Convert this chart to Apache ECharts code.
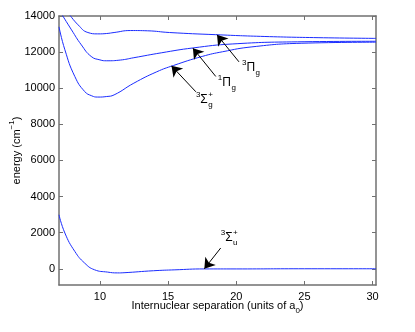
<!DOCTYPE html>
<html>
<head>
<meta charset="utf-8">
<script src="https://cdn.jsdelivr.net/npm/echarts@6/dist/echarts.min.js"></script>
<style>
html, body { margin: 0; padding: 0; background: #fff; }
#chart { width: 415px; height: 332px; }
</style>
</head>
<body>
<div id="chart"></div>
<script>
// potential curves (x in a0, energy in cm^-1)
const sigmaGX = [7.0, 7.43, 8.16, 8.88, 9.4, 9.84, 10.5, 11.04, 12.49, 14.17, 15.4, 17.5, 19.0, 21.15, 24.76, 30.25];
const sigmaGE = [13400, 12130, 10650, 9820, 9580, 9510, 9540, 9630, 10280, 10910, 11260, 11760, 12020, 12290, 12490, 12550];

const piG1X = [7.2, 7.92, 8.64, 9.36, 10.0, 10.5, 11.5, 12.49, 14.5, 16.82, 19.7, 24.5, 30.25];
const piG1E = [14100, 13230, 12400, 11760, 11570, 11520, 11560, 11690, 11960, 12230, 12450, 12570, 12600];

const piG3X = [7.75, 8.4, 9.12, 9.84, 10.5, 11.04, 12.25, 13.5, 15.1, 18.5, 22.1, 26.0, 30.25];
const piG3E = [14100, 13510, 13085, 13010, 13030, 13085, 13195, 13180, 13085, 12965, 12865, 12800, 12760];

const sigmaUX = [7.0, 7.43, 8.16, 8.88, 9.6, 10.56, 11.3, 11.77, 13.93, 15.5, 17.66, 20.0, 25.0, 30.25];
const sigmaUE = [2990, 1980, 960, 315, -55, -185, -230, -220, -110, -60, -10, -10, 0, 0];

const xTicks = [10, 15, 20, 25, 30];
const yTicks = [0, 2000, 4000, 6000, 8000, 10000, 12000, 14000];

// annotation labels: [left superscript, symbol, right superscript, subscript]
const annoNames = [['3', 'Π', '', 'g'], ['1', 'Π', '', 'g'], ['3', 'Σ', '+', 'g'], ['3', 'Σ', '+', 'u']];
const annoTailX = [20.2, 18.5, 17.04, 18.86];
const annoTailE = [11460, 10650, 9800, 1150];
const annoTipX = [18.59, 16.82, 15.25, 17.66];
const annoTipE = [12957, 12220, 11240, 0];

// label placement relative to the arrow tail, px
const labelShift = [[3, 6], [2, 6], [0, 7.5], [0, -10]];

const FONT = 'Liberation Sans, Arial, Helvetica, sans-serif';
const LINE_BLUE = '#1a2cff';
const AXIS_GREY = '#707070';

function zip(xs, ys) {
    return xs.map((x, i) => [x, ys[i]]);
}

const chart = echarts.init(document.getElementById('chart'));

function curve(name, xs, es) {
    return {
        name: name,
        type: 'line',
        data: zip(xs, es),
        showSymbol: false,
        smooth: 0.5,
        clip: true,
        lineStyle: { color: LINE_BLUE, width: 1 },
        silent: true
    };
}

const arrows = annoTipX.map((x, i) => [
    { coord: [annoTailX[i], annoTailE[i]] },
    { coord: [x, annoTipE[i]] }
]);

const series = [
    curve('3Sg+', sigmaGX, sigmaGE),
    curve('1Pg', piG1X, piG1E),
    curve('3Pg', piG3X, piG3E),
    curve('3Su+', sigmaUX, sigmaUE)
];
series[0].markLine = {
    silent: true,
    animation: false,
    symbol: ['none', 'arrow'],
    symbolSize: 10,
    label: { show: false },
    lineStyle: { color: '#000', width: 1, type: 'solid' },
    itemStyle: { color: '#000' },
    emphasis: { disabled: true },
    data: arrows
};

const boxAxis = {
    axisLine: { show: true, onZero: false, lineStyle: { color: AXIS_GREY, width: 1.5 } },
    splitLine: { show: false }
};

chart.setOption({
    animation: false,
    grid: { left: 54, right: 39, top: 16, bottom: 47 },
    xAxis: [
        Object.assign({
            type: 'value', min: 7, max: 30.25, position: 'bottom',
            name: '{t|Internuclear separation (units of a}{s|0}{t|)}',
            nameLocation: 'middle', nameGap: 12, nameMoveOverlap: false,
            nameTextStyle: {
                rich: {
                    t: { fontFamily: FONT, fontSize: 11, color: '#000', lineHeight: 18 },
                    s: { fontFamily: FONT, fontSize: 8, color: '#000', lineHeight: 8, verticalAlign: 'bottom' }
                }
            },
            axisTick: { inside: true, length: 4, customValues: xTicks, lineStyle: { color: AXIS_GREY } },
            axisLabel: { customValues: xTicks, margin: 6, fontFamily: FONT, fontSize: 11, color: '#000' }
        }, boxAxis),
        Object.assign({
            type: 'value', min: 7, max: 30.25, position: 'top',
            axisTick: { inside: true, length: 4, customValues: xTicks, lineStyle: { color: AXIS_GREY } },
            axisLabel: { show: false }
        }, boxAxis)
    ],
    yAxis: [
        Object.assign({
            type: 'value', min: -900, max: 14000, position: 'left',
            name: '{t|energy (cm}{s|−1}{t|)}',
            nameLocation: 'middle', nameGap: 33, nameRotate: 90, nameMoveOverlap: false,
            nameTextStyle: {
                rich: {
                    t: { fontFamily: FONT, fontSize: 11, color: '#000', lineHeight: 18 },
                    s: { fontFamily: FONT, fontSize: 8, color: '#000', lineHeight: 8, verticalAlign: 'top' }
                }
            },
            axisTick: { inside: true, length: 4, customValues: yTicks, lineStyle: { color: AXIS_GREY } },
            axisLabel: {
                customValues: yTicks, margin: 4, fontFamily: FONT, fontSize: 11, color: '#000',
                formatter: (v) => String(v)
            }
        }, boxAxis),
        Object.assign({
            type: 'value', min: -900, max: 14000, position: 'right',
            axisTick: { inside: true, length: 4, customValues: yTicks, lineStyle: { color: AXIS_GREY } },
            axisLabel: { show: false }
        }, boxAxis)
    ],
    series: series
});

// state labels with left superscript, symbol, right superscript and subscript
const measureCtx = document.createElement('canvas').getContext('2d');
function textWidth(s, size) {
    measureCtx.font = size + 'px ' + FONT;
    return measureCtx.measureText(s).width;
}
function txt(s, x, y, size) {
    return {
        type: 'text', x: x, y: y, silent: true,
        style: { text: s, fontFamily: FONT, fontSize: size, fill: '#000', align: 'left', verticalAlign: 'middle' }
    };
}

const labelEls = [];
annoNames.forEach((n, i) => {
    const p = chart.convertToPixel({ seriesIndex: 0 }, [annoTailX[i], annoTailE[i]]);
    let x = p[0] + labelShift[i][0];
    const cy = p[1] + labelShift[i][1];
    labelEls.push(txt(n[0], x, cy - 5, 8));
    x += textWidth(n[0], 8);
    labelEls.push(txt(n[1], x, cy, 12));
    x += textWidth(n[1], 12) + 0.5;
    if (n[2]) labelEls.push(txt(n[2], x, cy - 5, 8));
    labelEls.push(txt(n[3], x, cy + 5, 8));
});
chart.setOption({ graphic: labelEls });
</script>
</body>
</html>
